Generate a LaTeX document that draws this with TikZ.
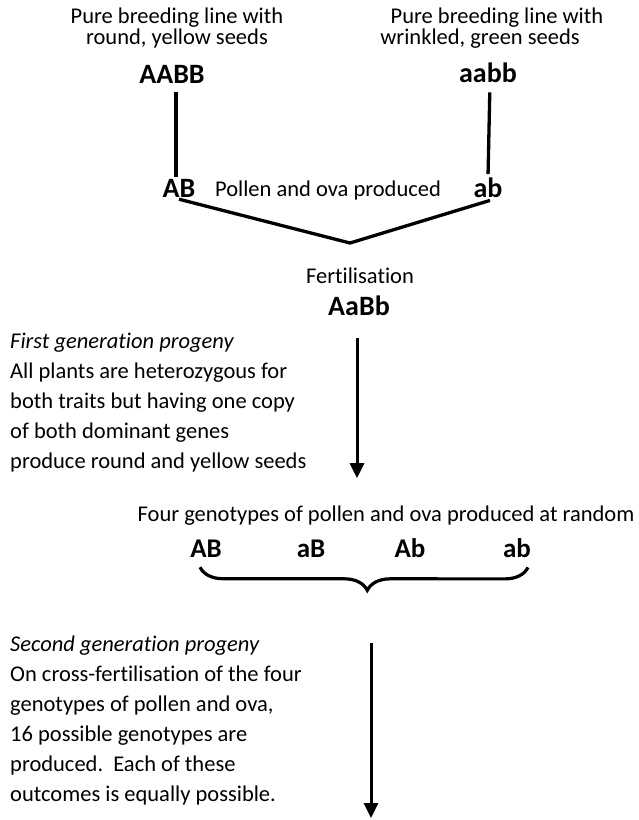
\documentclass[tikz,border=0pt]{standalone}
\usepackage{fontspec}
\setmainfont{Carlito}[Ligatures=NoCommon]
\usetikzlibrary{arrows.meta,decorations.pathreplacing}

\begin{document}
\begin{tikzpicture}[
  x=1pt,y=-1pt,
  txt/.style={inner sep=0pt,anchor=base,font=\fontsize{22.5}{21}\selectfont},
  geno/.style={inner sep=0pt,anchor=base,font=\fontsize{28}{28}\selectfont\bfseries},
  gamete/.style={geno,font=\fontsize{27}{27}\selectfont\bfseries},
  note/.style={inner sep=0pt,anchor=west,align=left,font=\fontsize{22.5}{30}\selectfont},
  link/.style={line width=3.3pt},
  arrow/.style={-{Triangle[length=15pt,width=14pt]},line width=3pt},
  brace/.style={decorate,decoration={brace,mirror,amplitude=23pt,aspect=0.51},line width=3.2pt}
]
  \useasboundingbox (0,0) rectangle (638,820);

  % parent lines
  \node[txt,align=center,anchor=center] (roundline) at (177,28)
    {Pure breeding line with\\round, yellow seeds};
  \node[txt] (wrinkledtop) at (497,23) {Pure breeding line with};
  \node[txt] (wrinkledbot) at (480,44) {wrinkled, green seeds};
  \node[geno] (AABB) at (172,83) {AABB};
  \node[geno] (aabb) at (488,82) {aabb};

  % gametes of the parents
  \node[geno] (AB) at (179,197) {AB};
  \node[txt] (pollen) at (328,196) {Pollen and ova produced};
  \node[geno] (ab) at (488,197) {ab};
  \coordinate (meet) at (350,243);

  \draw[link,shorten <=9pt,shorten >=2pt] ([xshift=4pt]AABB.south) -- ([xshift=-3pt]AB.north);
  \draw[link,shorten <=10pt,shorten >=3pt] ([xshift=2pt]aabb.south) -- (ab.north);
  \draw[link] ([yshift=-2pt]AB.south) -- (meet) -- ([shift={(2pt,-3pt)}]ab.south);

  % first generation
  \node[txt] (fert) at (360,283) {Fertilisation};
  \node[geno] (AaBb) at (359,315) {AaBb};
  \node[note] (first) at (10,403) {\textit{First generation progeny}\\
    All plants are heterozygous for\\
    both traits but having one copy\\
    of both dominant genes\\
    produce round and yellow seeds};

  \node[txt] (four) at (386,521) {Four genotypes of pollen and ova produced at random};
  \node[gamete] (gAB) at (206,557) {AB};
  \node[gamete] (gaB) at (311,557) {aB};
  \node[gamete] (gAb) at (410,557) {Ab};
  \node[gamete] (gab) at (517,557) {ab};

  \draw[arrow,shorten <=23pt,shorten >=27pt] ([xshift=-2pt]AaBb.south) -- ([xshift=-2pt]AaBb.south |- four.north);
  \draw[brace] ([shift={(-6pt,-10pt)}]gAB.south) -- ([shift={(11pt,-10pt)}]gab.south);

  % second generation
  \node[note] (second) at (10,720) {\textit{Second generation progeny}\\
    On cross-fertilisation of the four\\
    genotypes of pollen and ova,\\
    16 possible genotypes are\\
    produced.\ \ Each of these\\
    outcomes is equally possible.};
  \coordinate (cross) at (371,643);
  \coordinate (offspring) at (371,818);
  \draw[arrow] (cross) -- (offspring);
\end{tikzpicture}
\end{document}
